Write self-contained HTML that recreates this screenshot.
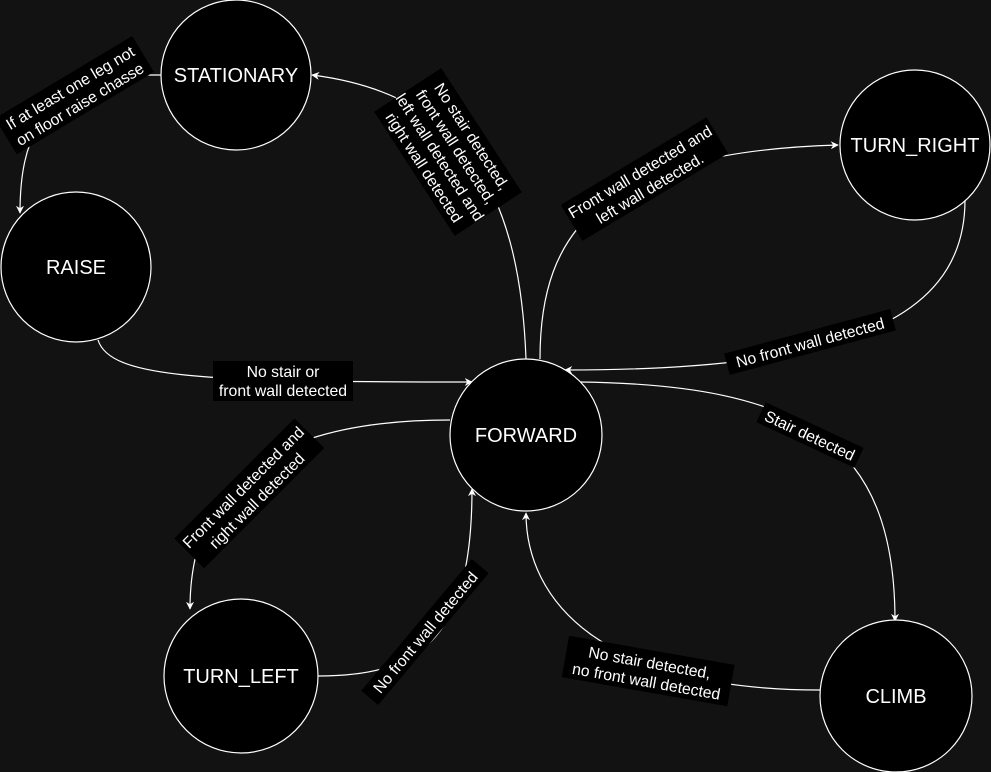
<!DOCTYPE html>
<html><head><meta charset="utf-8"><style>
html,body{margin:0;padding:0;background:#121212;}
svg{display:block;}
text{font-family:"Liberation Sans",Arial,sans-serif;fill:#fff;}
</style></head><body>
<svg width="991" height="772" viewBox="0 0 991 772" xmlns="http://www.w3.org/2000/svg">
<defs>
<marker id="a" viewBox="0 0 10 10" refX="9" refY="5" markerWidth="8" markerHeight="8" orient="auto" markerUnits="userSpaceOnUse">
<path d="M0,0 L10,5 L0,10 L3,5 Z" fill="#fff"/>
</marker>
</defs>
<rect width="991" height="772" fill="#121212"/>
<g fill="none" stroke="#fff" stroke-width="1.2">
<path d="M161,75 L148,75 C40,80 20,140 20,213" marker-end="url(#a)"/>
<path d="M526,359 C520,200 470,95 312,75" marker-end="url(#a)"/>
<path d="M540,359 C540,230 600,152 838,145" marker-end="url(#a)"/>
<path d="M965,200 C965,330 820,370 565,370" marker-end="url(#a)"/>
<path d="M98,340 C110,378 200,382 472,382" marker-end="url(#a)"/>
<path d="M580,382 C800,385 895,440 895,621" marker-end="url(#a)"/>
<path d="M450,420 C250,420 190,500 190,609" marker-end="url(#a)"/>
<path d="M318,676 C420,676 472,640 472,489" marker-end="url(#a)"/>
<path d="M820,690 C600,690 526,600 526,513" marker-end="url(#a)"/>
</g>
<g fill="#000" stroke="#fff" stroke-width="1.2">
<circle cx="236" cy="75" r="75"/>
<circle cx="76" cy="267" r="75"/>
<circle cx="915" cy="145" r="75"/>
<circle cx="526" cy="435" r="76"/>
<circle cx="241" cy="676" r="77"/>
<circle cx="896" cy="696" r="76"/>
</g>
<g font-size="20" text-anchor="middle">
<text x="236" y="82">STATIONARY</text>
<text x="76" y="274">RAISE</text>
<text x="915" y="152">TURN_RIGHT</text>
<text x="526" y="442">FORWARD</text>
<text x="241" y="683">TURN_LEFT</text>
<text x="896" y="703">CLIMB</text>
</g>
<g font-size="15.8" text-anchor="middle">
<g transform="translate(75,96) rotate(-31)">
<rect x="-80" y="-22" width="160" height="42" fill="#000"/>
<text y="-4">If at least one leg not</text><text y="15">on floor raise chasse</text>
</g>
<g transform="translate(448,152) rotate(57)">
<rect x="-74" y="-40" width="148" height="80" fill="#000"/>
<text y="-23">No stair detected,</text><text y="-4">front wall detected,</text><text y="15">left wall detected and</text><text y="34">right wall detected</text>
</g>
<g transform="translate(645,180) rotate(-31)">
<rect x="-85" y="-22" width="170" height="42" fill="#000"/>
<text y="-4">Front wall detected and</text><text y="15">left wall detected.</text>
</g>
<g transform="translate(810,342) rotate(-15)">
<rect x="-86" y="-11" width="172" height="22" fill="#000"/>
<text y="6">No front wall detected</text>
</g>
<g transform="translate(283,381)">
<rect x="-70" y="-20" width="140" height="40" fill="#000"/>
<text y="-4">No stair or</text><text y="15">front wall detected</text>
</g>
<g transform="translate(810,435) rotate(25)">
<rect x="-54" y="-11" width="108" height="22" fill="#000"/>
<text y="6">Stair detected</text>
</g>
<g transform="translate(250,494) rotate(-45)">
<rect x="-85" y="-22" width="170" height="42" fill="#000"/>
<text y="-4">Front wall detected and</text><text y="15">right wall detected</text>
</g>
<g transform="translate(425,632) rotate(-50)">
<rect x="-86" y="-11" width="172" height="22" fill="#000"/>
<text y="6">No front wall detected</text>
</g>
<g transform="translate(648,672) rotate(10)">
<rect x="-84" y="-22" width="168" height="42" fill="#000"/>
<text y="-4">No stair detected,</text><text y="15">no front wall detected</text>
</g>
</g>
</svg>
</body></html>
